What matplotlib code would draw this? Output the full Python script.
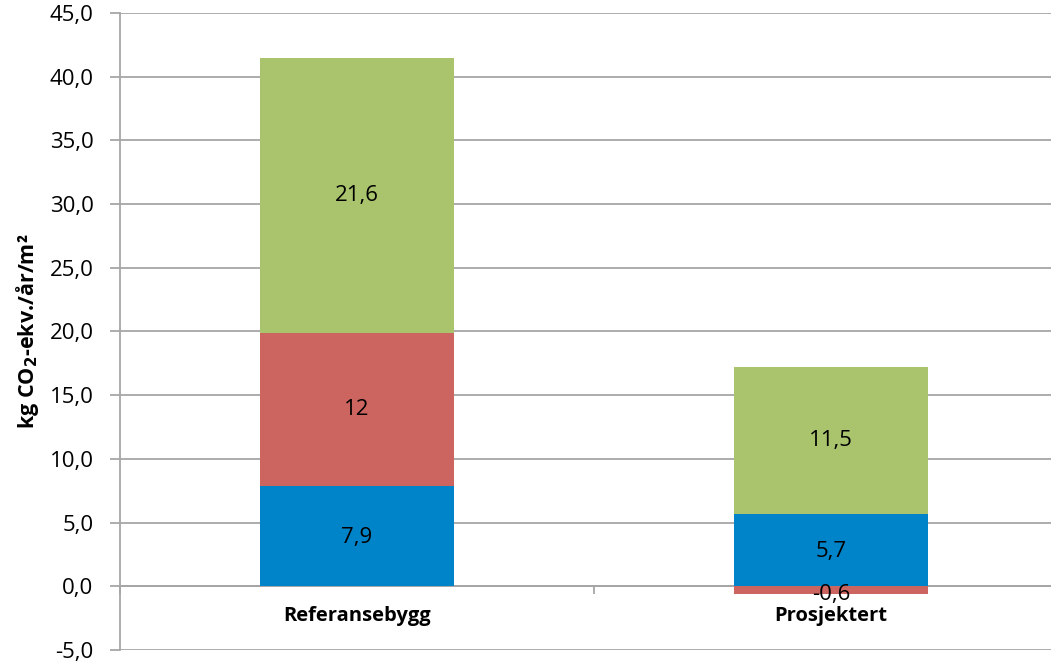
import matplotlib
matplotlib.use("Agg")
import matplotlib.pyplot as plt
import numpy as np

categories = ["Referansebygg", "Prosjektert"]
blue_vals = [7.9, 5.7]
red_vals = [12, -0.6]
green_vals = [21.6, 11.5]
blue_labels = ["7,9", "5,7"]
red_labels = ["12", "-0,6"]
green_labels = ["21,6", "11,5"]
yticks = np.arange(-5, 46, 5)

plt.rcParams['font.family'] = ['Open Sans', 'DejaVu Sans']

W, H = 1051, 663
fig = plt.figure(figsize=(W/100, H/100), dpi=100)
ax = fig.add_axes([120/W, (H-650)/H, (1068-120)/W, (650-13)/H])

x = np.arange(len(categories))
width = 0.41
c_blue, c_red, c_green = '#0084C9', '#CC6560', '#A9C46D'

blue = np.array(blue_vals)
red = np.array(red_vals)
green = np.array(green_vals)

ax.bar(x, blue, width, color=c_blue, zorder=3)
red_bottom = np.where(red >= 0, blue, 0)
ax.bar(x, red, width, bottom=red_bottom, color=c_red, zorder=3)
green_bottom = blue + np.where(red >= 0, red, 0)
ax.bar(x, green, width, bottom=green_bottom, color=c_green, zorder=3)

fs = 16
for i in range(len(x)):
    ax.text(x[i], blue[i]/2 - 0.1, blue_labels[i], ha='center', va='center', fontsize=fs, zorder=4)
    ax.text(x[i], red_bottom[i] + red[i]/2 + (0 if red[i] >= 0 else -0.35), red_labels[i], ha='center', va='center', fontsize=fs, zorder=4)
    ax.text(x[i], green_bottom[i] + green[i]/2, green_labels[i], ha='center', va='center', fontsize=fs, zorder=4)

ax.set_xlim(-0.5, 1.5)
ax.set_ylim(-5, 45)
ax.set_yticks(yticks)
ax.set_yticklabels([f"{v:.1f}".replace('.', ',') for v in yticks], fontsize=fs)
ax.yaxis.grid(True, color='#A6A6A6', linewidth=1.3, zorder=0)
ax.set_axisbelow(True)

for s in ['top', 'right']:
    ax.spines[s].set_visible(False)
ax.spines['left'].set_color('#A6A6A6')
ax.spines['left'].set_linewidth(1.3)
ax.spines['bottom'].set_position(('data', 0))
ax.spines['bottom'].set_color('#A6A6A6')
ax.spines['bottom'].set_linewidth(1.3)
ax.tick_params(axis='y', length=7, color='#A6A6A6', width=1.3, pad=12)

ax.set_xticks(x)
ax.set_xticklabels(categories, fontsize=14.5, fontweight='bold')
ax.tick_params(axis='x', which='major', length=0, pad=14)
ax.set_xticks([-0.5, 0.5, 1.5], minor=True)
ax.tick_params(axis='x', which='minor', length=6, color='#A6A6A6', width=1.3)

ax.set_ylabel("kg CO$_\\mathbf{2}$-ekv./år/m²", fontsize=15.5, fontweight='bold', labelpad=6)

fig.savefig("out.png", dpi=100)
